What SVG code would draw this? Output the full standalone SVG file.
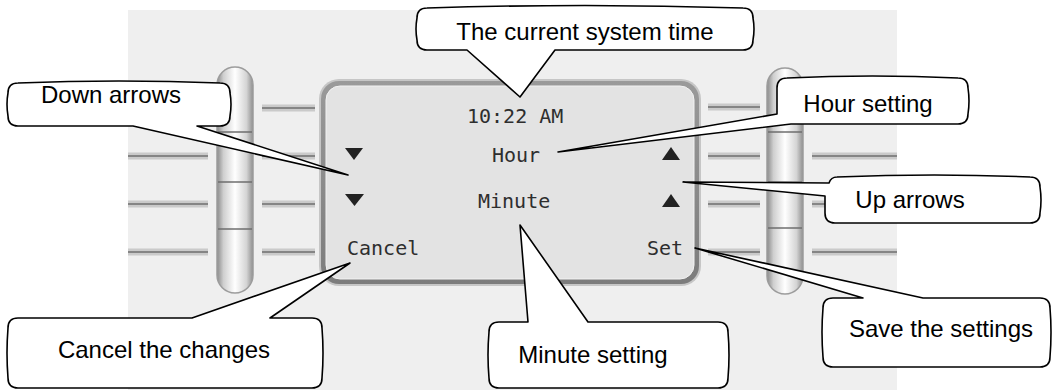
<svg xmlns="http://www.w3.org/2000/svg" width="1060" height="390" viewBox="0 0 1060 390">
<defs>
<linearGradient id="pillGrad" x1="0" y1="0" x2="1" y2="0">
<stop offset="0" stop-color="#8a8a8a"/>
<stop offset="0.18" stop-color="#cfcfcf"/>
<stop offset="0.5" stop-color="#ffffff"/>
<stop offset="0.82" stop-color="#d4d4d4"/>
<stop offset="1" stop-color="#8e8e8e"/>
</linearGradient>
<linearGradient id="bezelGrad" x1="0" y1="0" x2="0" y2="1">
<stop offset="0" stop-color="#9a9a9a"/>
<stop offset="1" stop-color="#7c7c7c"/>
</linearGradient>
<style>
.bubble{fill:#fff;stroke:#000;stroke-width:1.6;stroke-linejoin:round}
.btxt{font-family:"Liberation Sans",Arial,sans-serif;font-size:24px;fill:#000;text-anchor:middle}
.lcd{font-family:"DejaVu Sans Mono","Liberation Mono",monospace;font-size:20px;fill:#2e2e2e}
.rail-band{stroke:#cacaca;stroke-width:7;stroke-linecap:butt}
.rail-line{stroke:#858585;stroke-width:2}
.div{stroke:#6e6e6e;stroke-width:1.5}
.pill{fill:url(#pillGrad);stroke:#9c9c9c;stroke-width:1.5}
.tri{fill:#222}
</style>
</defs>
<rect x="0" y="0" width="1060" height="390" fill="#fff"/>
<rect x="128" y="10" width="769" height="380" fill="#efefef"/>

<g id="rails">
<g class="rail-band">
<line x1="128" y1="156" x2="208" y2="156"/><line x1="128" y1="204" x2="208" y2="204"/><line x1="128" y1="252" x2="208" y2="252"/>
<line x1="262" y1="108" x2="315" y2="108"/><line x1="262" y1="156" x2="315" y2="156"/><line x1="262" y1="204" x2="315" y2="204"/><line x1="262" y1="252" x2="315" y2="252"/>
<line x1="708" y1="107" x2="760" y2="107"/><line x1="708" y1="156" x2="760" y2="156"/><line x1="708" y1="204" x2="760" y2="204"/><line x1="708" y1="252" x2="760" y2="252"/>
<line x1="812" y1="156" x2="897" y2="156"/><line x1="812" y1="204" x2="897" y2="204"/><line x1="812" y1="252" x2="897" y2="252"/>
</g>
<g class="rail-line">
<line x1="128" y1="156" x2="208" y2="156"/><line x1="128" y1="204" x2="208" y2="204"/><line x1="128" y1="252" x2="208" y2="252"/>
<line x1="262" y1="108" x2="315" y2="108"/><line x1="262" y1="156" x2="315" y2="156"/><line x1="262" y1="204" x2="315" y2="204"/><line x1="262" y1="252" x2="315" y2="252"/>
<line x1="708" y1="107" x2="760" y2="107"/><line x1="708" y1="156" x2="760" y2="156"/><line x1="708" y1="204" x2="760" y2="204"/><line x1="708" y1="252" x2="760" y2="252"/>
<line x1="812" y1="156" x2="897" y2="156"/><line x1="812" y1="204" x2="897" y2="204"/><line x1="812" y1="252" x2="897" y2="252"/>
</g>
</g>

<g id="left-key-strip">
<rect class="pill" x="217" y="67" width="36" height="226" rx="18"/>
<line class="div" x1="218" y1="132" x2="252" y2="132"/>
<line class="div" x1="218" y1="182" x2="252" y2="182"/>
<line class="div" x1="218" y1="229" x2="252" y2="229"/>
</g>

<g id="right-key-strip">
<rect class="pill" x="767" y="68" width="36" height="226" rx="18"/>
<line class="div" x1="768" y1="132" x2="802" y2="132"/>
<line class="div" x1="768" y1="182" x2="802" y2="182"/>
<line class="div" x1="768" y1="228" x2="802" y2="228"/>
</g>

<g id="screen">
<rect x="319" y="79" width="382" height="207" rx="20" fill="#c6c6c6"/>
<rect x="321" y="81" width="378" height="203" rx="18" fill="url(#bezelGrad)"/>
<rect x="326" y="86" width="368" height="193" rx="14" fill="#e3e3e3" stroke="#f2f2f2" stroke-width="1"/>
<text class="lcd" x="467" y="123">10:22 AM</text>
<text class="lcd" x="492" y="162">Hour</text>
<text class="lcd" x="478" y="208">Minute</text>
<text class="lcd" x="347" y="255">Cancel</text>
<text class="lcd" x="683" y="255" text-anchor="end">Set</text>
<polygon class="tri" points="345,148 363,148 354,160"/>
<polygon class="tri" points="345,194 364,194 354.5,206"/>
<polygon class="tri" points="662,160 680,160 671,147"/>
<polygon class="tri" points="662,207 680,207 671,194"/>
</g>

<g id="connectors"></g>

<g id="callout-system-time">
<path class="bubble" d="M427,8 Q585,3 743,8 Q753,8 753,18 Q755,29 753,40 Q753,50 743,50 L555,50 L520,97 L467,50 L427,50 Q417,50 417,40 Q415,29 417,18 Q417,8 427,8 Z"/>
<text class="btxt" x="585" y="40">The current system time</text>
</g>

<g id="callout-down-arrows">
<path class="bubble" d="M18,83 Q119,79 220,83 Q230,83 230,93 Q232,104 230,116 Q230,126 220,126 L197,126 L348,175 L133,126 L18,126 Q8,126 8,116 Q6,104 8,93 Q8,83 18,83 Z"/>
<text class="btxt" x="111" y="103">Down arrows</text>
</g>

<g id="callout-hour-setting">
<path class="bubble" d="M787,78 Q872,74 958,78 Q968,78 968,88 Q970,101 968,114 Q968,124 958,124 L791,124 L558,152 L777,114 L777,88 Q777,78 787,78 Z"/>
<text class="btxt" x="868" y="112">Hour setting</text>
</g>

<g id="callout-up-arrows">
<path class="bubble" d="M837,177 Q935,173 1030,177 Q1040,177 1040,187 Q1042,200 1040,213 Q1040,223 1030,223 L835,223 Q825,223 825,213 L825,196 L683,182 L829,183 Q831,177 837,177 Z"/>
<text class="btxt" x="910" y="208">Up arrows</text>
</g>

<g id="callout-cancel">
<path class="bubble" d="M18,318 L192,318 L350,263 L270,318 L312,318 Q322,318 322,328 Q324,353 322,378 Q322,388 312,388 L18,388 Q8,388 8,378 Q6,353 8,328 Q8,318 18,318 Z"/>
<text class="btxt" x="164" y="358">Cancel the changes</text>
</g>

<g id="callout-minute-setting">
<path class="bubble" d="M499,322 L528,322 L520,225 L588,322 L718,322 Q728,322 728,332 Q730,355 728,378 Q728,388 718,388 L499,388 Q489,388 489,378 Q487,355 489,332 Q489,322 499,322 Z"/>
<text class="btxt" x="593" y="363">Minute setting</text>
</g>

<g id="callout-save">
<path class="bubble" d="M833,298 L863,298 L695,248 L923,298 L1040,298 Q1050,298 1050,308 Q1052,332 1050,357 Q1050,367 1040,367 L833,367 Q823,367 823,357 Q821,332 823,308 Q823,298 833,298 Z"/>
<text class="btxt" x="941" y="337">Save the settings</text>
</g>
</svg>
